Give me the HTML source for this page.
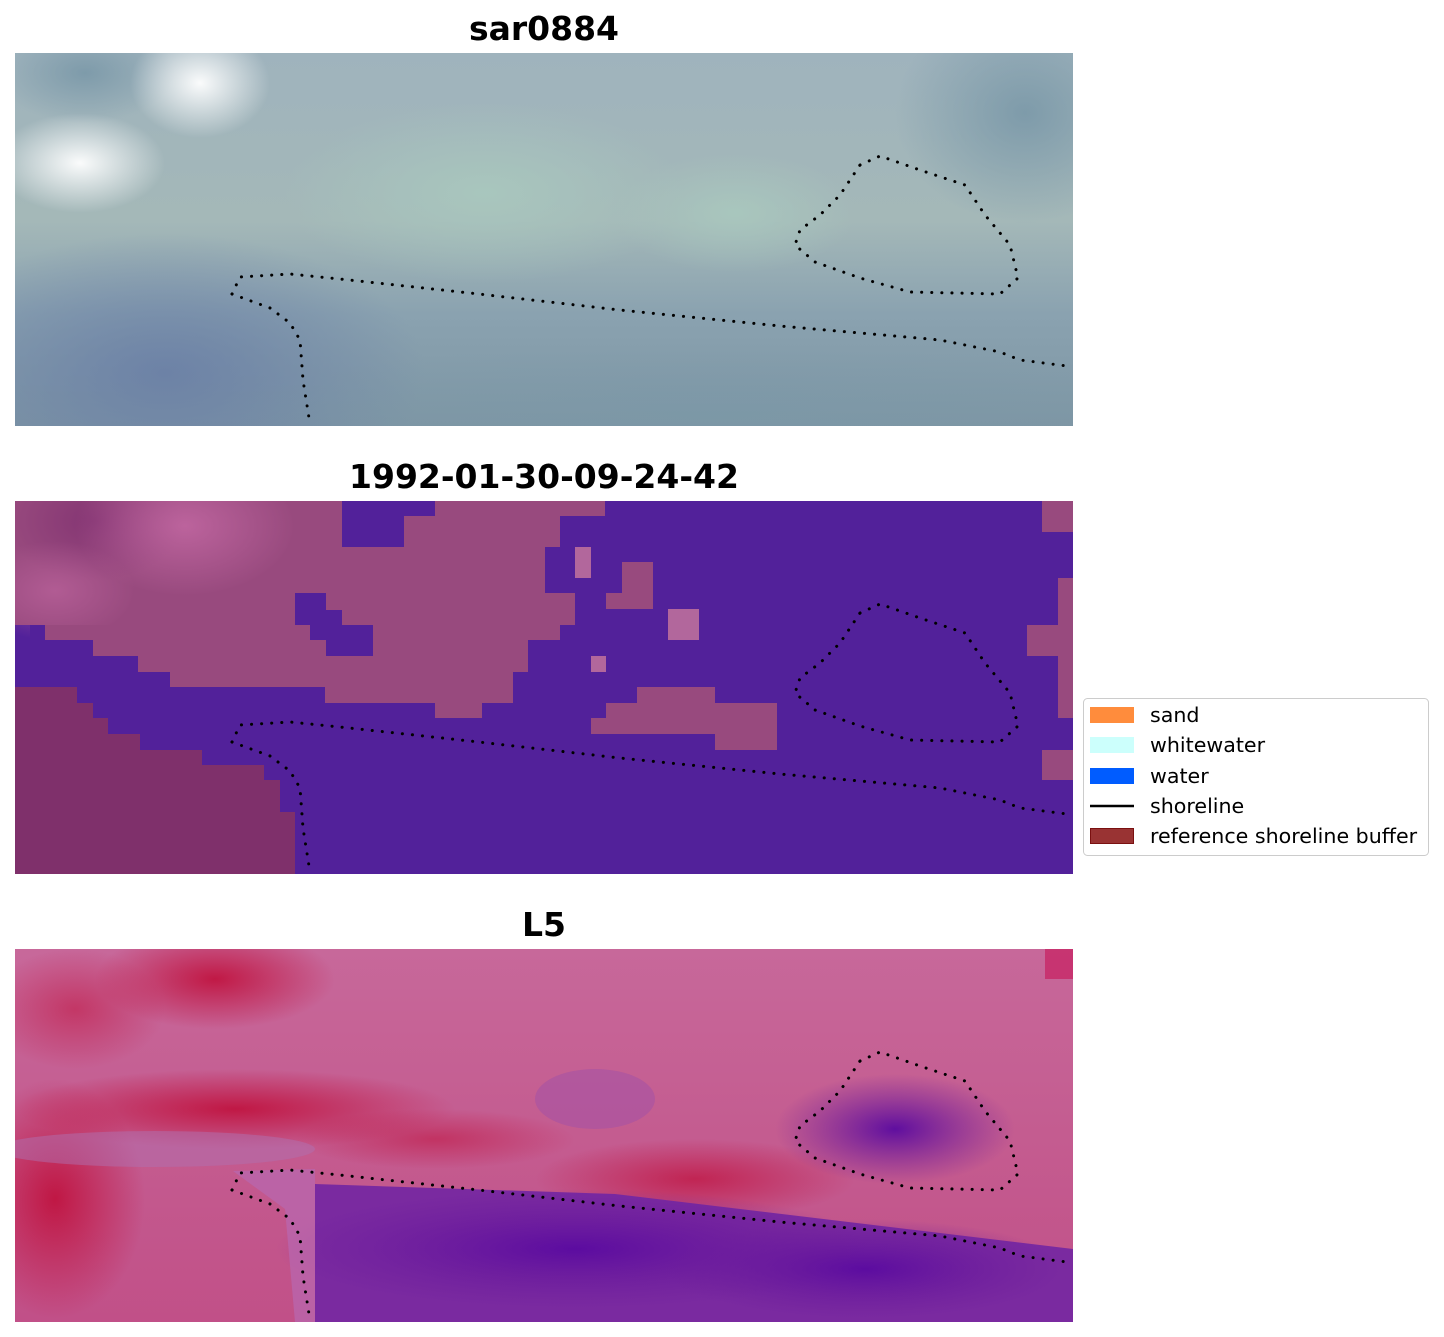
<!DOCTYPE html>
<html><head><meta charset="utf-8"><style>
html,body{margin:0;padding:0;background:#fff;width:1444px;height:1337px;overflow:hidden}
</style></head><body>
<svg width="1444" height="1337" xmlns="http://www.w3.org/2000/svg" font-family="DejaVu Sans, Liberation Sans, sans-serif">
<defs>
<radialGradient id="w1" cx="0.5" cy="0.5" r="0.5"><stop offset="0" stop-color="#ffffff" stop-opacity="0.95"/><stop offset="1" stop-color="#ffffff" stop-opacity="0"/></radialGradient>
<radialGradient id="g1" cx="0.5" cy="0.5" r="0.5"><stop offset="0" stop-color="#a9c8be" stop-opacity="0.9"/><stop offset="1" stop-color="#a9c8be" stop-opacity="0"/></radialGradient>
<radialGradient id="b1" cx="0.5" cy="0.5" r="0.5"><stop offset="0" stop-color="#6a7fa6" stop-opacity="0.9"/><stop offset="1" stop-color="#6a7fa6" stop-opacity="0"/></radialGradient>
<radialGradient id="d1" cx="0.5" cy="0.5" r="0.5"><stop offset="0" stop-color="#7a98a8" stop-opacity="0.9"/><stop offset="1" stop-color="#7a98a8" stop-opacity="0"/></radialGradient>
<radialGradient id="pk" cx="0.5" cy="0.5" r="0.5"><stop offset="0" stop-color="#c066a0" stop-opacity="0.9"/><stop offset="1" stop-color="#c066a0" stop-opacity="0"/></radialGradient>
<radialGradient id="dk" cx="0.5" cy="0.5" r="0.5"><stop offset="0" stop-color="#7f3070" stop-opacity="0.8"/><stop offset="1" stop-color="#7f3070" stop-opacity="0"/></radialGradient>
<linearGradient id="p1v" x1="0" y1="0" x2="0" y2="1"><stop offset="0" stop-color="#9fb3bd"/><stop offset="0.45" stop-color="#a4b8b8"/><stop offset="0.7" stop-color="#8aa2b0"/><stop offset="1" stop-color="#7e96a4"/></linearGradient>
<linearGradient id="p3v" x1="0" y1="0" x2="0" y2="1"><stop offset="0" stop-color="#c7689a"/><stop offset="0.5" stop-color="#c45c90"/><stop offset="1" stop-color="#c15088"/></linearGradient>
<radialGradient id="r1" cx="0.5" cy="0.5" r="0.5"><stop offset="0" stop-color="#c0103c" stop-opacity="0.9"/><stop offset="1" stop-color="#c0103c" stop-opacity="0"/></radialGradient>
<radialGradient id="pu" cx="0.5" cy="0.5" r="0.5"><stop offset="0" stop-color="#5a0aa0" stop-opacity="0.95"/><stop offset="1" stop-color="#6a1a9a" stop-opacity="0"/></radialGradient>
<clipPath id="tl"><polygon points="0,0 327,0 327,124 15,124 15,186 0,186"/></clipPath>
</defs>
<g font-weight="bold" font-size="33" text-anchor="middle" fill="#000">
<text x="544" y="40">sar0884</text>
<text x="544" y="488">1992-01-30-09-24-42</text>
<text x="544" y="936">L5</text>
</g>
<!-- panel 1 -->
<svg x="15" y="53" width="1058" height="373">
<rect width="1058" height="373" fill="url(#p1v)"/>
<ellipse cx="150" cy="320" rx="260" ry="140" fill="url(#b1)"/>
<ellipse cx="1010" cy="60" rx="130" ry="110" fill="url(#d1)"/>
<ellipse cx="70" cy="20" rx="90" ry="50" fill="url(#d1)"/>
<ellipse cx="470" cy="140" rx="200" ry="90" fill="url(#g1)"/>
<ellipse cx="720" cy="160" rx="120" ry="60" fill="url(#g1)"/>
<ellipse cx="185" cy="30" rx="70" ry="55" fill="url(#w1)"/>
<ellipse cx="65" cy="110" rx="85" ry="50" fill="url(#w1)"/>
<ellipse cx="700" cy="360" rx="500" ry="70" fill="url(#d1)" opacity="0.6"/>
</svg>
<!-- panel 2 -->
<svg x="15" y="501" width="1058" height="373">
<rect width="1058" height="373" fill="#52219a"/>
<g fill="#984a7e" transform="translate(-15,-501)">
<polygon points="15,501 342,501 342,547 404,547 404,516 435,516 435,501 605,501 605,516 560,516 560,547 545,547 545,593 575,593 575,625 560,625 560,640 528,640 528,672 513,672 513,703 482,703 482,718 435,718 435,703 325,703 325,687 170,687 170,672 138,672 138,656 93,656 93,640 45,640 45,625 15,625"/>
<rect x="1042" y="501" width="31" height="31"/>
<rect x="1058" y="578" width="15" height="140"/>
<rect x="1027" y="625" width="31" height="31"/>
<rect x="1042" y="750" width="31" height="30"/>
<rect x="622" y="562" width="31" height="47"/>
<rect x="606" y="593" width="47" height="16"/>
<polygon points="637,687 715,687 715,703 777,703 777,750 715,750 715,734 591,734 591,718 606,718 606,703 637,703"/>
</g>
<g clip-path="url(#tl)">
<ellipse cx="80" cy="20" rx="90" ry="60" fill="url(#dk)"/>
<ellipse cx="170" cy="25" rx="110" ry="70" fill="url(#pk)"/>
<ellipse cx="40" cy="90" rx="80" ry="50" fill="url(#pk)" opacity="0.7"/>
</g>
<g fill="#52219a" transform="translate(-15,-501)">
<rect x="295" y="593" width="31" height="32"/><rect x="310" y="610" width="32" height="30"/><rect x="326" y="625" width="47" height="31"/>
</g>
<g fill="#b2679c" transform="translate(-15,-501)">
<rect x="575" y="547" width="16" height="31"/><rect x="668" y="609" width="31" height="31"/><rect x="591" y="656" width="15" height="16"/>
</g>
<polygon transform="translate(-15,-501)" fill="#7f306b" points="15,687 77,687 77,703 93,703 93,718 108,718 108,734 140,734 140,750 202,750 202,765 264,765 264,780 280,780 280,812 295,812 295,874 15,874"/>
</svg>
<!-- panel 3 -->
<svg x="15" y="949" width="1058" height="373">
<rect width="1058" height="373" fill="url(#p3v)"/>
<ellipse cx="200" cy="30" rx="120" ry="50" fill="url(#r1)"/>
<ellipse cx="60" cy="60" rx="90" ry="60" fill="url(#r1)" opacity="0.6"/>
<ellipse cx="220" cy="160" rx="220" ry="40" fill="url(#r1)"/>
<ellipse cx="40" cy="250" rx="90" ry="120" fill="url(#r1)"/>
<ellipse cx="680" cy="230" rx="160" ry="40" fill="url(#r1)" opacity="0.8"/>
<ellipse cx="420" cy="190" rx="140" ry="30" fill="url(#r1)" opacity="0.6"/>
<ellipse cx="140" cy="200" rx="160" ry="18" fill="#b070b0" opacity="0.5"/>
<ellipse cx="580" cy="150" rx="60" ry="30" fill="#a050a8" opacity="0.5"/>
<path d="M300,235 L600,245 L1058,300 L1058,373 L300,373 Z" fill="#7a2aa0"/>
<ellipse cx="560" cy="300" rx="300" ry="60" fill="url(#pu)"/>
<ellipse cx="850" cy="320" rx="200" ry="50" fill="url(#pu)"/>
<path d="M218,222 L300,220 L300,373 L280,373 L270,260 Z" fill="#b868b0" opacity="0.7"/>
<ellipse cx="880" cy="180" rx="120" ry="55" fill="url(#pu)"/>
<rect x="1030" y="0" width="28" height="30" fill="#c82060" opacity="0.7"/>
</svg>
<!-- shorelines -->
<g fill="none" stroke="#000" stroke-width="3" stroke-linecap="round" stroke-dasharray="0.1 10">
<g id="sl">
<polyline points="232,294 240,277 290,274 340,279 470,293 620,310 780,326 940,340 1000,352 1020,360 1067,366"/>
<polyline points="232,294 270,308 290,323 300,340 303,380 309,418"/>
<polyline points="860,165 880,156 920,170 965,185 985,215 1010,245 1018,278 1000,294 910,292 860,278 815,262 795,245 800,230 820,215 840,195 860,165"/>
</g>
<use href="#sl" y="448"/>
<use href="#sl" y="896"/>
</g>
<!-- legend -->
<rect x="1083.5" y="698.5" width="345" height="157" rx="4" fill="#fff" stroke="#ccc"/>
<rect x="1090" y="707" width="44" height="16" fill="#ff8c3c"/>
<rect x="1090" y="737" width="44" height="16" fill="#ccfffc"/>
<rect x="1090" y="768" width="44" height="16" fill="#005cff"/>
<line x1="1090" y1="806" x2="1134" y2="806" stroke="#000" stroke-width="2.5"/>
<rect x="1090.5" y="828.5" width="43" height="15" fill="#993333" stroke="#7a1010"/>
<g font-size="20.6" fill="#000">
<text x="1150" y="722">sand</text>
<text x="1150" y="752">whitewater</text>
<text x="1150" y="783">water</text>
<text x="1150" y="813">shoreline</text>
<text x="1150" y="843">reference shoreline buffer</text>
</g>
</svg>
</body></html>
